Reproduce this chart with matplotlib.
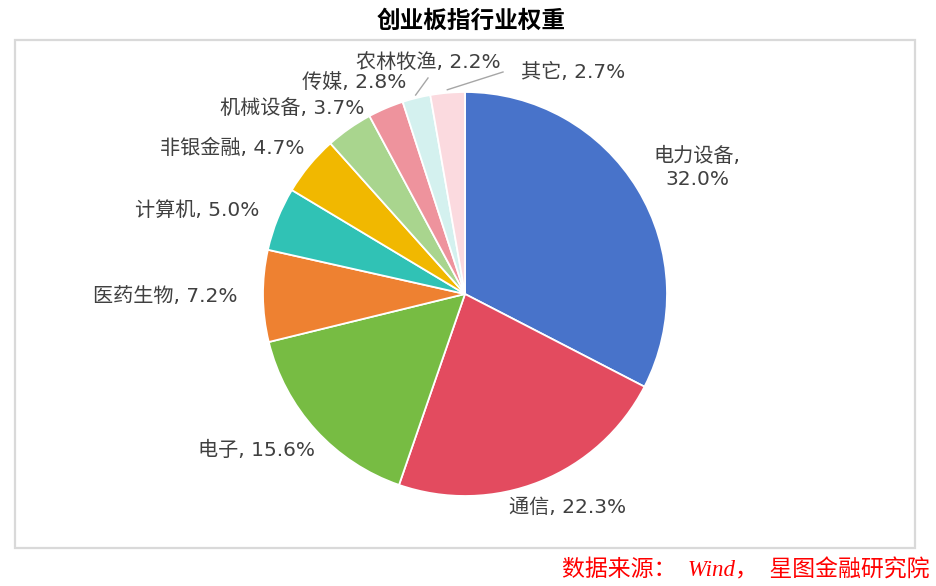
import numpy as np
import matplotlib
matplotlib.use("Agg")
import matplotlib.pyplot as plt
from matplotlib.patches import Rectangle

plt.rcParams['font.family'] = ['DejaVu Sans', 'Noto Sans CJK SC']

# 数据
sectors = ['电力设备', '通信', '电子', '医药生物', '计算机',
           '非银金融', '机械设备', '传媒', '农林牧渔', '其它']
weights = [32.0, 22.3, 15.6, 7.2, 5.0, 4.7, 3.7, 2.8, 2.2, 2.7]
colors = ['#4873CA', '#E34B5F', '#77BC43', '#EE8131', '#30C2B5',
          '#F1B800', '#A9D58E', '#EE939D', '#D4F1EF', '#FBDADF']

# 标签位置（像素, 从左上角）
label_pos = [(697, 168), (568, 507), (256, 450), (165, 297), (197, 210),
             (232, 148), (292, 108), (354, 82), (428, 62), (573, 72)]
leader = [False] * 8 + [True, True]

W, H = 936, 586
fig = plt.figure(figsize=(W / 100, H / 100), dpi=100)
ax = fig.add_axes([0, 0, 1, 1])

# 外框
ax.add_patch(Rectangle((15, H - 548), 900, 508, fill=False,
                       edgecolor='#d9d9d9', lw=1.6))

cx, cy, r = 465, H - 294, 202
wedges, _ = ax.pie(weights, colors=colors, startangle=90, counterclock=False,
                   center=(cx, cy), radius=r, frame=True,
                   wedgeprops=dict(edgecolor='white', linewidth=1.3))
ax.set_xlim(0, W)
ax.set_ylim(0, H)
ax.axis('off')

for i, (name, val) in enumerate(zip(sectors, weights)):
    lx, ly = label_pos[i]
    ly = H - ly
    if i == 0:
        txt = f'{name},\n{val:.1f}%'
    else:
        txt = f'{name}, {val:.1f}%'
    ax.text(lx, ly, txt, ha='center', va='center', fontsize=14.5,
            color='#404040', linespacing=1.25)
    if leader[i]:
        w = wedges[i]
        ang = np.deg2rad((w.theta1 + w.theta2) / 2)
        x0 = cx + (r + 3) * np.cos(ang)
        y0 = cy + (r + 3) * np.sin(ang)
        if i == 8:
            x1, y1 = lx, ly - 16
        else:
            x1, y1 = lx - 70, ly
        ax.plot([x0, x1], [y0, y1], color='#a6a6a6', lw=1)

ax.text(471, H - 21, '创业板指行业权重', ha='center', va='center',
        fontsize=17, fontweight='bold', color='black',
        family=['Noto Sans CJK SC'])

ax.text(930, H - 570, '数据来源：  Wind，  星图金融研究院', ha='right', va='center',
        fontsize=16.5, color='red', style='italic',
        family=['Liberation Serif', 'Noto Sans CJK SC'])

fig.savefig('out.png', dpi=100)
